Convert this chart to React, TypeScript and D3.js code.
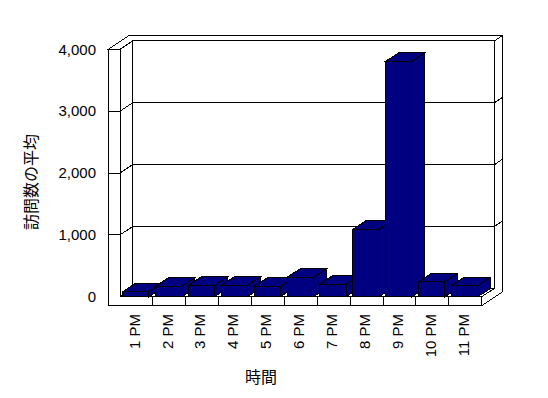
import React from "react";
import * as d3 from "d3";

const categories = ["1 PM", "2 PM", "3 PM", "4 PM", "5 PM", "6 PM", "7 PM", "8 PM", "9 PM", "10 PM", "11 PM"];
const values = [80, 168, 184, 184, 168, 313, 205, 1090, 3806, 243, 178];
const yTicks = [0, 1000, 2000, 3000, 4000];
const gridValues = [1000, 2000, 3000];
const yTitle = "訪問数の平均";
const xTitle = "時間";

const W = 548;
const H = 398;
const FX0 = 120;
const FX1 = 481.7;
const OUT_L = 108.3;
const TOP_F = 49.3;
const FLOOR_T = 296.7;
const FLOOR_B = 305.7;
const D = { x: 12.8, y: -8.4 };
const DT = { x: 21, y: -14 };

const fmt = d3.format(",");

function pts(arr: [number, number][]) {
  return arr.map((p) => p.join(",")).join(" ");
}

export default function App() {
  const slot = d3.scaleBand<string>().domain(categories).range([FX0, FX1]).padding(0);
  const y = d3.scaleLinear().domain([0, 4000]).range([FLOOR_T, TOP_F]);
  const step = slot.bandwidth();
  const bw = step * 0.8;
  const boff = step * 0.08;

  const stroke = { stroke: "#000", strokeWidth: 1, fill: "#fff" } as const;
  const barStyle = { stroke: "#000", strokeWidth: 1, fill: "#000080" } as const;

  const bx0 = FX0 + D.x;
  const bx1 = FX1 + D.x;
  const yB = (v: number) => y(v) + D.y;

  return (
    <svg
      width={W}
      height={H}
      style={{ position: "absolute", left: 0, top: 0, background: "#fff" }}
      shapeRendering="crispEdges"
    >
      <rect x={0} y={0} width={W} height={H} fill="#fff" />
      {/* back wall front face */}
      <rect x={bx0} y={yB(4000)} width={bx1 - bx0} height={yB(0) - yB(4000)} {...stroke} />
      {/* top faces (left wall + back wall) */}
      <polygon
        points={pts([
          [OUT_L, TOP_F],
          [OUT_L + DT.x, TOP_F + DT.y],
          [FX1 + DT.x, TOP_F + DT.y],
          [bx1, TOP_F + D.y],
          [bx0, TOP_F + D.y],
          [FX0, TOP_F],
        ])}
        {...stroke}
      />
      {/* right faces (back wall + floor) */}
      <polygon
        points={pts([
          [FX1, FLOOR_T],
          [bx1, FLOOR_T + D.y],
          [bx1, TOP_F + D.y],
          [FX1 + DT.x, TOP_F + DT.y],
          [FX1 + DT.x, FLOOR_B + DT.y],
          [FX1, FLOOR_B],
        ])}
        {...stroke}
      />
      {/* left wall inner face */}
      <polygon
        points={pts([
          [FX0, TOP_F],
          [bx0, TOP_F + D.y],
          [bx0, FLOOR_T + D.y],
          [FX0, FLOOR_T],
        ])}
        {...stroke}
      />
      {/* floor top */}
      <polygon
        points={pts([
          [FX0, FLOOR_T],
          [FX1, FLOOR_T],
          [bx1, FLOOR_T + D.y],
          [bx0, FLOOR_T + D.y],
        ])}
        {...stroke}
      />
      {/* front faces: left wall + floor (L shape) */}
      <polygon
        points={pts([
          [OUT_L, TOP_F],
          [FX0, TOP_F],
          [FX0, FLOOR_T],
          [FX1, FLOOR_T],
          [FX1, FLOOR_B],
          [OUT_L, FLOOR_B],
        ])}
        {...stroke}
      />
      {/* gridlines */}
      {gridValues.map((v) => (
        <g key={v} stroke="#000" strokeWidth={1} fill="none">
          <line x1={OUT_L} x2={FX0} y1={y(v)} y2={y(v)} />
          <line x1={FX0} x2={bx0} y1={y(v)} y2={yB(v)} />
          <line x1={bx0} x2={bx1} y1={yB(v)} y2={yB(v)} />
          <line x1={bx1} x2={FX1 + DT.x} y1={yB(v)} y2={y(v) + DT.y} />
        </g>
      ))}
      {/* category ticks on floor front */}
      {categories.slice(1).map((c) => (
        <line
          key={c}
          x1={slot(c)!}
          x2={slot(c)!}
          y1={FLOOR_T}
          y2={FLOOR_B}
          stroke="#000"
          strokeWidth={1}
        />
      ))}
      {/* bars */}
      {categories.map((c, i) => {
        const x0 = slot(c)! + boff;
        const x1 = x0 + bw;
        const yt = y(values[i]);
        return (
          <g key={c}>
            <polygon
              points={pts([
                [x1, yt],
                [x1 + D.x, yt + D.y],
                [x1 + D.x, FLOOR_T + D.y],
                [x1, FLOOR_T],
              ])}
              {...barStyle}
            />
            <polygon
              points={pts([
                [x0, yt],
                [x0 + D.x, yt + D.y],
                [x1 + D.x, yt + D.y],
                [x1, yt],
              ])}
              {...barStyle}
            />
            <rect x={x0} y={yt} width={bw} height={FLOOR_T - yt} {...barStyle} />
          </g>
        );
      })}
      {/* y tick labels */}
      <g fontFamily="'Liberation Sans', Arial, sans-serif" fontSize={15} fill="#000">
        {yTicks.map((v) => (
          <text key={v} x={96} y={y(v)} dy="0.35em" textAnchor="end" shapeRendering="auto">
            {fmt(v)}
          </text>
        ))}
        {categories.map((c) => {
          const cx = slot(c)! + step / 2 - 2;
          return (
            <text
              key={c}
              transform={`translate(${cx},314) rotate(-90)`}
              dy="0.35em"
              textAnchor="end"
            >
              {c}
            </text>
          );
        })}
      </g>
      <text
        transform="translate(31,182) rotate(-90)"
        dy="0.35em"
        textAnchor="middle"
        fontFamily="'Noto Sans CJK JP', sans-serif"
        fontSize={16}
        fill="#000"
      >
        {yTitle}
      </text>
      <text
        x={261}
        y={377}
        dy="0.35em"
        textAnchor="middle"
        fontFamily="'Noto Sans CJK JP', sans-serif"
        fontSize={16}
        fill="#000"
      >
        {xTitle}
      </text>
    </svg>
  );
}
